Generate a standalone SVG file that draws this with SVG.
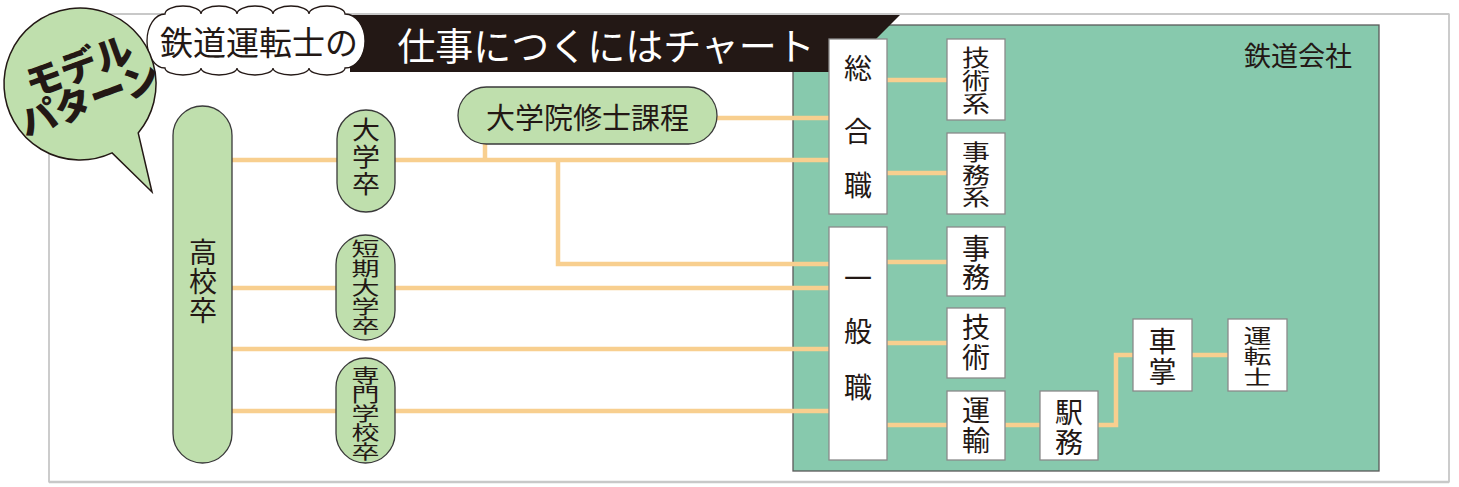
<svg xmlns="http://www.w3.org/2000/svg" width="1459" height="487" viewBox="0 0 1459 487">
<style>
.ln{stroke:#f8cf8f;stroke-width:4.5;fill:none}
.pill{fill:#bfdfad;stroke:#3a3a3a;stroke-width:1.3}
.box{fill:#fff;stroke:#8a8a8a;stroke-width:1.3}
.t{font-family:"Noto Sans CJK JP","Noto Sans",sans-serif;fill:#231815;text-anchor:middle;dominant-baseline:central;font-size:28px}
.v{font-family:"Noto Sans CJK JP","Noto Sans",sans-serif;fill:#231815;text-anchor:middle;font-size:28px;writing-mode:vertical-rl}
</style>
<rect width="1459" height="487" fill="#fff"/>
<g id="frame">
<rect x="49" y="14" width="1400" height="468" fill="none" stroke="#999" stroke-width="1"/>
<line x1="49" y1="14" x2="1449" y2="14" stroke="#c8c8c8" stroke-width="2"/>
<line x1="49" y1="482" x2="1449" y2="482" stroke="#c8c8c8" stroke-width="2.5"/>
</g>
<g id="company">
<rect x="793" y="25" width="586" height="446" fill="#87c9ad" stroke="#5a5a5a" stroke-width="1.3"/>
<text class="t" x="1298" y="54" style="font-size:27px">鉄道会社</text>
</g>
<g id="connectors">
<line class="ln" x1="232" y1="160" x2="829" y2="160"/>
<line class="ln" x1="717" y1="118" x2="829" y2="118"/>
<line class="ln" x1="485" y1="144" x2="485" y2="160"/>
<polyline class="ln" points="558,160 558,264 829,264"/>
<line class="ln" x1="232" y1="288" x2="829" y2="288"/>
<line class="ln" x1="232" y1="349" x2="829" y2="349"/>
<line class="ln" x1="232" y1="411" x2="829" y2="411"/>
<line class="ln" x1="887" y1="80" x2="947" y2="80"/>
<line class="ln" x1="887" y1="173" x2="947" y2="173"/>
<line class="ln" x1="887" y1="262" x2="947" y2="262"/>
<line class="ln" x1="887" y1="343" x2="947" y2="343"/>
<line class="ln" x1="887" y1="425" x2="947" y2="425"/>
<line class="ln" x1="1005" y1="425" x2="1040" y2="425"/>
<polyline class="ln" points="1098,425 1116,425 1116,355 1133,355"/>
<line class="ln" x1="1192" y1="355" x2="1228" y2="355"/>
</g>
<g id="banner">
<polygon points="350,15 900,15 843,72 350,72" fill="#231815"/>
<text class="t" x="606" y="43" style="font-size:38px;fill:#fff">仕事につくにはチャート</text>
</g>
<g id="cloud">
<path d="M165,14 a18,8 0 0 1 36,0 a18,8 0 0 1 36,0 a18,8 0 0 1 36,0 a18,8 0 0 1 36,0 a18,8 0 0 1 36,0 a20,27 0 0 1 0,54 a18,7 0 0 1 -36,0 a18,7 0 0 1 -36,0 a18,7 0 0 1 -36,0 a18,7 0 0 1 -36,0 a18,7 0 0 1 -36,0 a18,27 0 0 1 0,-54 Z" fill="#fff" stroke="#231815" stroke-width="1.3"/>
<text class="t" x="259" y="41" style="font-size:33px">鉄道運転士の</text>
</g>
<g id="bubble">
<path d="M138.2,132.9 L152,192 L112.1,152.9 A76,76 0 1 1 138.2,132.9 Z" fill="#bfdfad" stroke="#231815" stroke-width="1.5"/>
<text class="t" style="font-size:37px;font-weight:900" transform="translate(78,64) rotate(-20)">モデル</text>
<text class="t" style="font-size:37px;font-weight:900" transform="translate(89,97) rotate(-20)">パターン</text>
</g>
<g id="koukou">
<rect class="pill" x="173" y="106" width="59" height="357" rx="29.5"/>
<text class="v" x="203" y="252.5">高</text>
<text class="v" x="203" y="281.5">校</text>
<text class="v" x="203" y="310">卒</text>
</g>
<g id="daigaku">
<rect class="pill" x="337" y="110" width="58" height="102" rx="29"/>
<text class="v" x="0" y="0" transform="translate(366,129) scale(1,0.9)">大</text>
<text class="v" x="0" y="0" transform="translate(366,156) scale(1,0.9)">学</text>
<text class="v" x="0" y="0" transform="translate(366,183) scale(1,0.9)">卒</text>
</g>
<g id="tanki">
<rect class="pill" x="336" y="235" width="59" height="105" rx="29.5"/>
<text class="v" x="0" y="0" transform="translate(365.5,249) scale(1,0.68)">短</text>
<text class="v" x="0" y="0" transform="translate(365.5,268.5) scale(1,0.68)">期</text>
<text class="v" x="0" y="0" transform="translate(365.5,288) scale(1,0.68)">大</text>
<text class="v" x="0" y="0" transform="translate(365.5,307) scale(1,0.68)">学</text>
<text class="v" x="0" y="0" transform="translate(365.5,326) scale(1,0.68)">卒</text>
</g>
<g id="senmon">
<rect class="pill" x="336" y="358" width="59" height="105" rx="29.5"/>
<text class="v" x="0" y="0" transform="translate(365.5,376) scale(1,0.67)">専</text>
<text class="v" x="0" y="0" transform="translate(365.5,395) scale(1,0.67)">門</text>
<text class="v" x="0" y="0" transform="translate(365.5,414) scale(1,0.67)">学</text>
<text class="v" x="0" y="0" transform="translate(365.5,433) scale(1,0.67)">校</text>
<text class="v" x="0" y="0" transform="translate(365.5,452) scale(1,0.67)">卒</text>
</g>
<g id="daigakuin">
<rect class="pill" x="458" y="87" width="259" height="57" rx="28.5"/>
<text class="t" x="587.5" y="115.5" style="font-size:29px">大学院修士課程</text>
</g>
<g id="sougou">
<rect class="box" x="829" y="39" width="58" height="175"/>
<text class="t" x="858" y="67">総</text>
<text class="t" x="858" y="130">合</text>
<text class="t" x="858" y="184">職</text>
</g>
<g id="ippan">
<rect class="box" x="829" y="227" width="58" height="233"/>
<text class="t" x="858" y="277">一</text>
<text class="t" x="858" y="330">般</text>
<text class="t" x="858" y="386">職</text>
</g>
<g id="gijutsukei">
<rect class="box" x="947" y="39" width="58" height="81"/>
<text class="v" x="0" y="0" transform="translate(976,57) scale(1,0.8)">技</text>
<text class="v" x="0" y="0" transform="translate(976,80) scale(1,0.8)">術</text>
<text class="v" x="0" y="0" transform="translate(976,103) scale(1,0.8)">系</text>
</g>
<g id="jimukei">
<rect class="box" x="947" y="133" width="58" height="81"/>
<text class="v" x="0" y="0" transform="translate(976,152) scale(1,0.78)">事</text>
<text class="v" x="0" y="0" transform="translate(976,174.5) scale(1,0.78)">務</text>
<text class="v" x="0" y="0" transform="translate(976,197) scale(1,0.78)">系</text>
</g>
<g id="jimu">
<rect class="box" x="947" y="227" width="58" height="69"/>
<text class="v" x="976" y="248">事</text>
<text class="v" x="976" y="277">務</text>
</g>
<g id="gijutsu">
<rect class="box" x="947" y="308" width="58" height="70"/>
<text class="v" x="976" y="327">技</text>
<text class="v" x="976" y="357">術</text>
</g>
<g id="unyu">
<rect class="box" x="947" y="391" width="58" height="69"/>
<text class="v" x="976" y="410">運</text>
<text class="v" x="976" y="440">輸</text>
</g>
<g id="ekimu">
<rect class="box" x="1040" y="391" width="58" height="69"/>
<text class="v" x="1069" y="412">駅</text>
<text class="v" x="1069" y="442">務</text>
</g>
<g id="shashou">
<rect class="box" x="1133" y="319" width="59" height="72"/>
<text class="v" x="1162.5" y="341">車</text>
<text class="v" x="1162.5" y="371">掌</text>
</g>
<g id="untenshi">
<rect class="box" x="1228" y="319" width="59" height="72"/>
<text class="v" x="0" y="0" transform="translate(1257.5,336) scale(1,0.72)">運</text>
<text class="v" x="0" y="0" transform="translate(1257.5,356.5) scale(1,0.72)">転</text>
<text class="v" x="0" y="0" transform="translate(1257.5,377) scale(1,0.72)">士</text>
</g>
</svg>
